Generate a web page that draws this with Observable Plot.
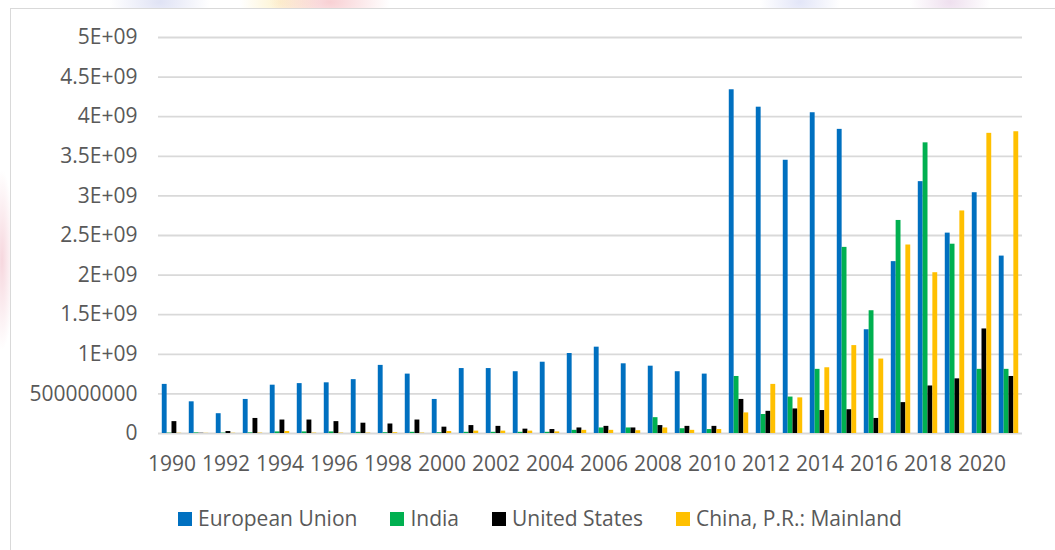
<!DOCTYPE html>
<html>
<head>
<meta charset="utf-8">
<script src="https://cdn.jsdelivr.net/npm/d3@7"></script>
<script src="https://cdn.jsdelivr.net/npm/@observablehq/plot@0.6"></script>
<style>
  html, body { margin: 0; padding: 0; }
  body {
    width: 1055px; height: 550px; overflow: hidden; position: relative;
    font-family: "Open Sans", sans-serif;
    background:
      radial-gradient(ellipse 60px 30px at 330px 2px, rgba(235,120,130,0.35), transparent),
      radial-gradient(ellipse 40px 30px at 280px 2px, rgba(250,220,120,0.35), transparent),
      radial-gradient(ellipse 50px 30px at 160px 2px, rgba(150,160,220,0.30), transparent),
      radial-gradient(ellipse 40px 30px at 800px 2px, rgba(160,170,230,0.30), transparent),
      radial-gradient(ellipse 40px 30px at 950px 2px, rgba(200,150,200,0.30), transparent),
      radial-gradient(ellipse 12px 90px at 2px 260px, rgba(230,140,160,0.35), transparent),
      #ffffff;
  }
  #frame {
    position: absolute; left: 10px; top: 8px; width: 1100px; height: 600px;
    background: #fff; border: 1.5px solid #d9d9d9; box-sizing: border-box;
  }
  #chart { position: absolute; left: 0; top: 0; }
  #legend {
    position: absolute; left: 178px; top: 505px;
    display: flex; align-items: center;
    font-size: 21px; color: #595959; line-height: 27px; white-space: nowrap;
  }
  #legend .item { display: flex; align-items: center; margin-right: 33px; }
  #legend .sw { width: 14px; height: 14px; margin-right: 6px; }
</style>
</head>
<body>
<div id="frame"></div>
<div id="chart"></div>
<div id="legend"></div>
<script>
// Annual values by partner, 1990–2021
const years = [1990, 1991, 1992, 1993, 1994, 1995, 1996, 1997, 1998, 1999, 2000,
  2001, 2002, 2003, 2004, 2005, 2006, 2007, 2008, 2009, 2010,
  2011, 2012, 2013, 2014, 2015, 2016, 2017, 2018, 2019, 2020, 2021];

const seriesNames = ["European Union", "India", "United States", "China, P.R.: Mainland"];
const seriesColors = ["#0070C0", "#00B050", "#000000", "#FFC000"];

const europeanUnion = [6.2e8, 4.0e8, 2.5e8, 4.3e8, 6.1e8, 6.3e8, 6.4e8, 6.8e8, 8.6e8, 7.5e8, 4.3e8,
  8.2e8, 8.2e8, 7.8e8, 9.0e8, 1.01e9, 1.09e9, 8.8e8, 8.5e8, 7.8e8, 7.5e8,
  4.34e9, 4.12e9, 3.45e9, 4.05e9, 3.84e9, 1.31e9, 2.17e9, 3.18e9, 2.53e9, 3.04e9, 2.24e9];
const india = [5e6, 8e6, 5e6, 8e6, 2e7, 2e7, 2e7, 1.5e7, 1e7, 1.5e7, 1e7,
  1.5e7, 1.5e7, 1.5e7, 1.5e7, 4e7, 7e7, 7e7, 2.0e8, 6e7, 5e7,
  7.2e8, 2.4e8, 4.6e8, 8.1e8, 2.35e9, 1.55e9, 2.69e9, 3.67e9, 2.39e9, 8.1e8, 8.1e8];
const unitedStates = [1.5e8, 3e6, 2.5e7, 1.9e8, 1.7e8, 1.7e8, 1.5e8, 1.3e8, 1.2e8, 1.7e8, 8e7,
  1.0e8, 9e7, 5.5e7, 5e7, 7e7, 9e7, 7e7, 1.0e8, 9e7, 9e7,
  4.3e8, 2.8e8, 3.1e8, 2.9e8, 3.0e8, 1.9e8, 3.9e8, 6.0e8, 6.9e8, 1.32e9, 7.2e8];
const chinaMainland = [3e6, 2e6, 3e6, 5e6, 2.5e7, 5e6, 5e6, 5e6, 1e7, 5e6, 2.5e7,
  3e7, 3e7, 3e7, 2e7, 4e7, 4e7, 3.5e7, 7e7, 4e7, 5e7,
  2.6e8, 6.2e8, 4.5e8, 8.3e8, 1.11e9, 9.4e8, 2.38e9, 2.03e9, 2.81e9, 3.79e9, 3.81e9];

const xTickYears = [1990, 1992, 1994, 1996, 1998, 2000, 2002, 2004, 2006, 2008, 2010,
  2012, 2014, 2016, 2018, 2020];
const yTicks = [0, 5e8, 1e9, 1.5e9, 2e9, 2.5e9, 3e9, 3.5e9, 4e9, 4.5e9, 5e9];
const yTickLabels = ["0", "500000000", "1E+09", "1.5E+09", "2E+09", "2.5E+09",
  "3E+09", "3.5E+09", "4E+09", "4.5E+09", "5E+09"];

// Long-format table: one row per (year, series)
const seriesValues = [europeanUnion, india, unitedStates, chinaMainland];
const rows = [];
seriesNames.forEach((name, k) => {
  years.forEach((year, i) => rows.push({ year, series: name, k, value: seriesValues[k][i] }));
});

// Clustered bars: each year's band is split into four adjacent bars
const barW = 0.18;
const groupStart = -2 * barW;

const chart = Plot.plot({
  width: 1055,
  height: 480,
  marginLeft: 158,
  marginRight: 33,
  marginTop: 37,
  marginBottom: 47,
  style: { background: "transparent", fontFamily: "'Open Sans', sans-serif", fontSize: "21px", color: "#595959", overflow: "visible" },
  x: {
    type: "linear",
    domain: [1989.5, 2021.5],
    ticks: xTickYears,
    tickFormat: d => String(d),
    tickSize: 0,
    tickPadding: 23,
    label: null
  },
  y: {
    domain: [0, 5e9],
    ticks: yTicks,
    tickFormat: d => yTickLabels[yTicks.indexOf(d)],
    tickSize: 0,
    tickPadding: 21,
    label: null
  },
  color: { domain: seriesNames, range: seriesColors },
  marks: [
    Plot.ruleY(yTicks, { stroke: "#d9d9d9", strokeWidth: 1.8 }),
    Plot.rectY(rows, {
      x1: d => d.year + groupStart + d.k * barW,
      x2: d => d.year + groupStart + (d.k + 1) * barW,
      y: "value",
      fill: "series"
    })
  ]
});
document.getElementById("chart").appendChild(chart);

// Legend below the plot
const legend = document.getElementById("legend");
seriesNames.forEach((name, k) => {
  const item = document.createElement("div");
  item.className = "item";
  const sw = document.createElement("span");
  sw.className = "sw";
  sw.style.background = seriesColors[k];
  const label = document.createElement("span");
  label.textContent = name;
  item.appendChild(sw);
  item.appendChild(label);
  legend.appendChild(item);
});
</script>
</body>
</html>
